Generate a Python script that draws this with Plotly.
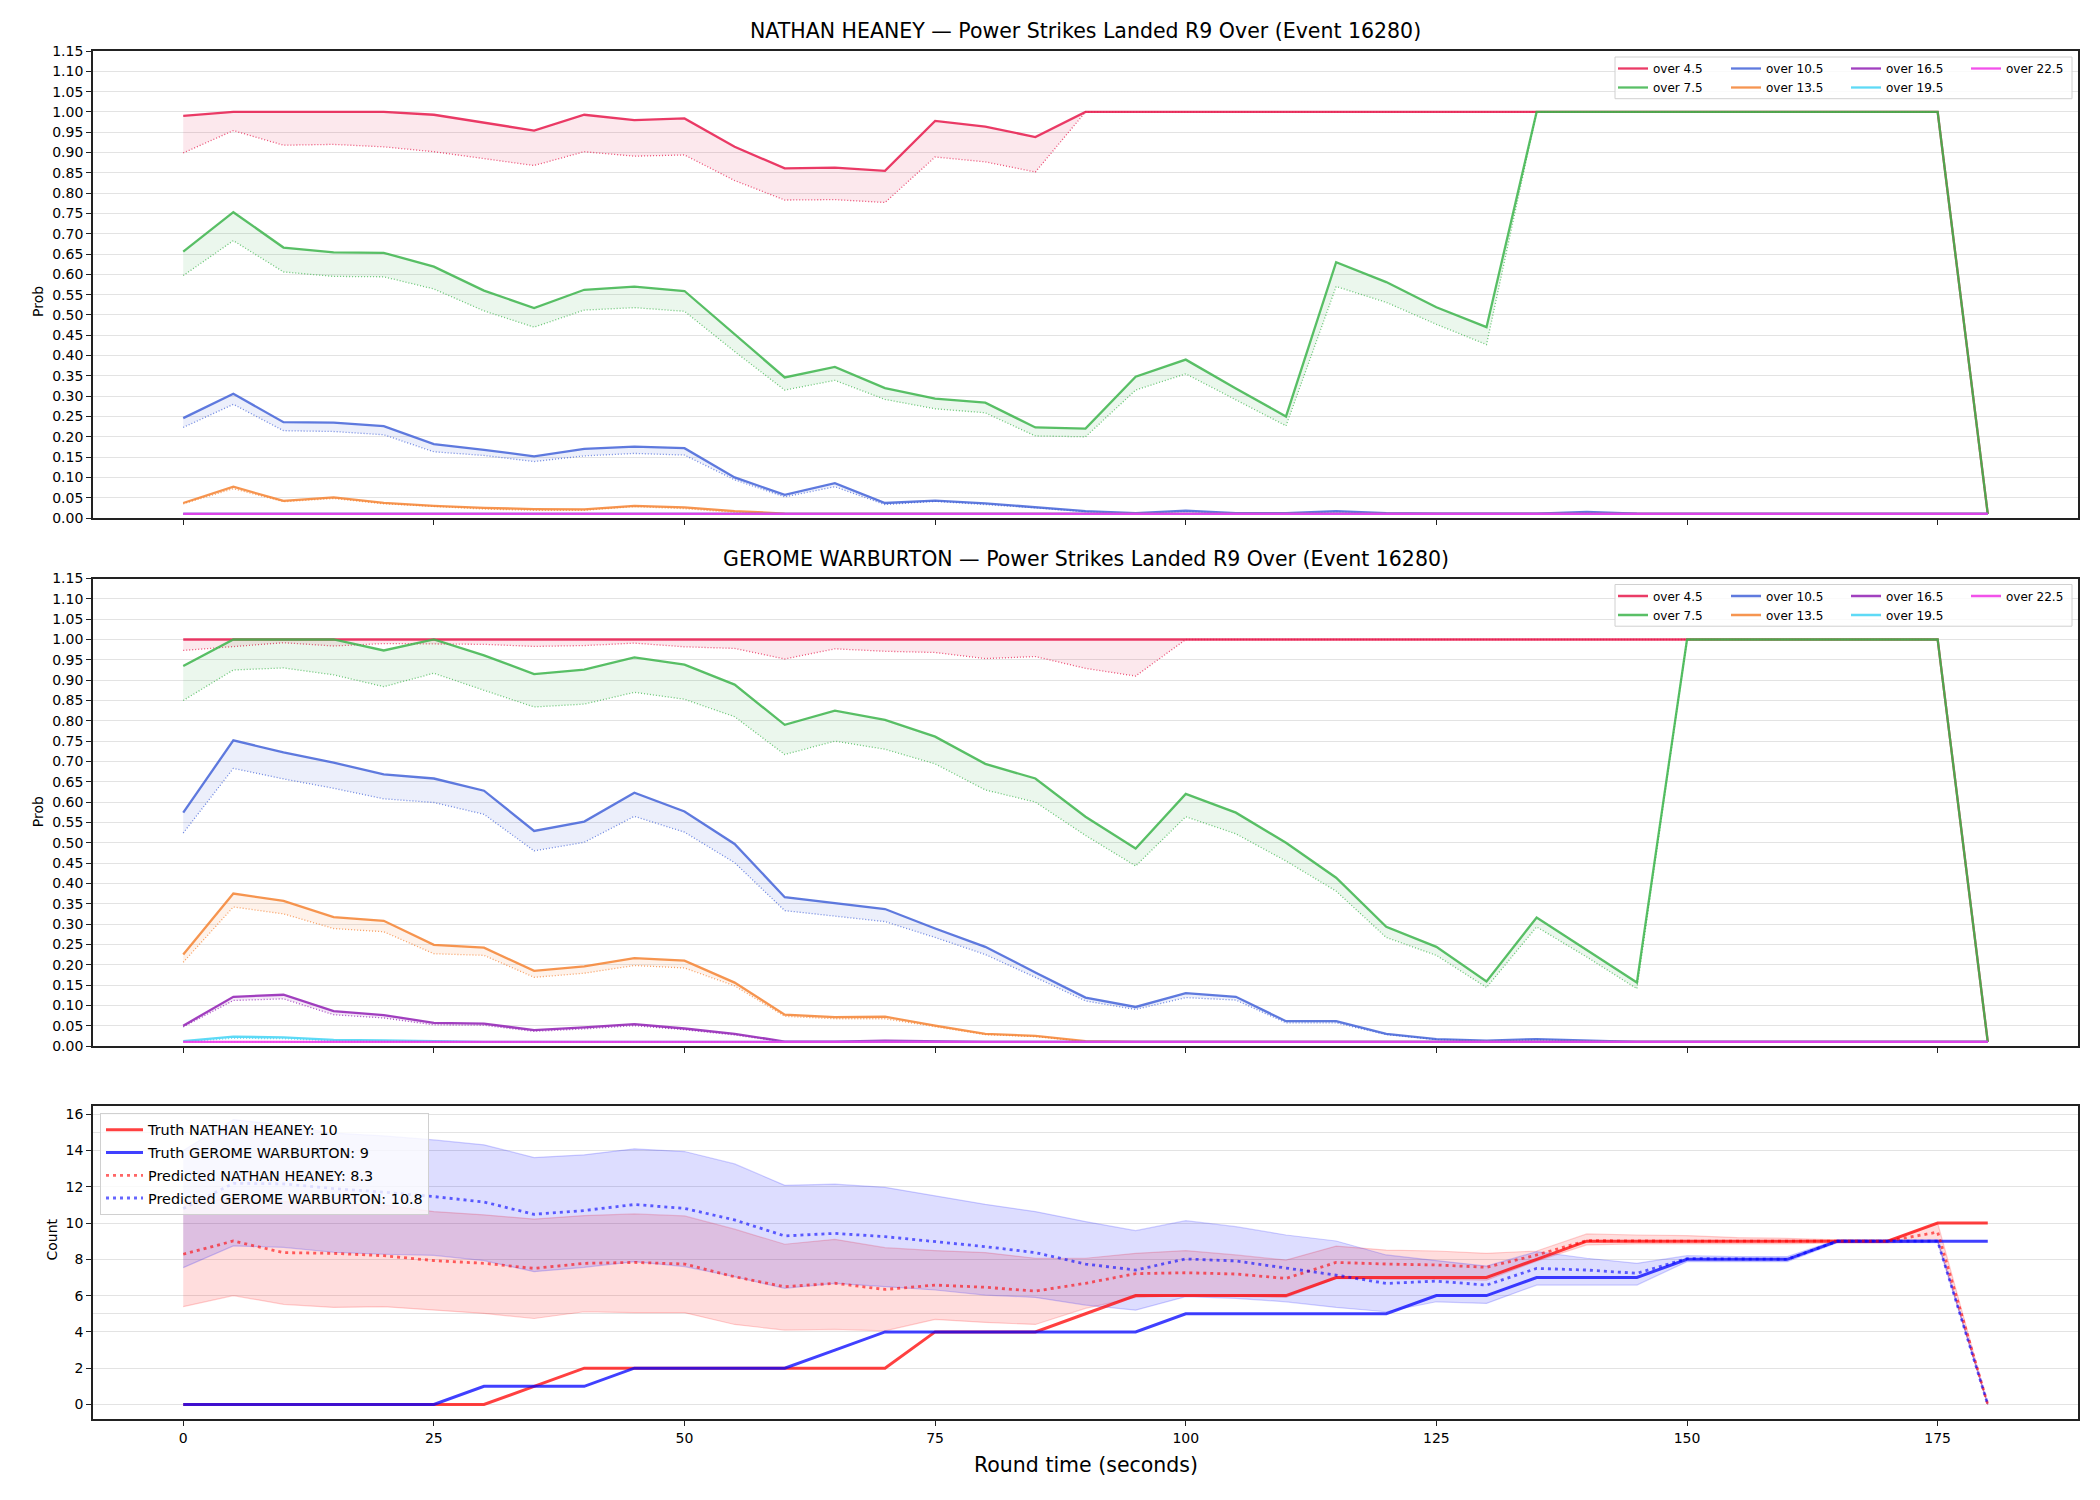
import plotly.graph_objects as go
from plotly.subplots import make_subplots

FONT = "DejaVu Sans"

# ---------------- data ----------------
TIME = [0, 5, 10, 15, 20, 25, 30, 35, 40, 45, 50, 55, 60, 65, 70, 75, 80, 85,
        90, 95, 100, 105, 110, 115, 120, 125, 130, 135, 140, 145, 150, 155, 160, 165, 170, 175, 180]

THRESHOLDS = ["over 4.5", "over 7.5", "over 10.5", "over 13.5", "over 16.5", "over 19.5", "over 22.5"]
THRESH_COLORS = ["#e6194b", "#3cb44b", "#4363d8", "#f58231", "#911eb4", "#42d4f4", "#f032e6"]

# NATHAN HEANEY (solid = line, dotted = predicted)
N_45 = [0.990, 1.000, 1.000, 1.000, 1.000, 0.993, 0.973, 0.954, 0.993, 0.980, 0.984, 0.914, 0.861, 0.863, 0.855, 0.978, 0.964, 0.938,
        1.000, 1.000, 1.000, 1.000, 1.000, 1.000, 1.000, 1.000, 1.000, 1.000, 1.000, 1.000, 1.000, 1.000, 1.000, 1.000, 1.000, 1.000, 0.010]
N_45_P = [0.899, 0.954, 0.918, 0.920, 0.914, 0.902, 0.885, 0.868, 0.902, 0.891, 0.894, 0.831, 0.783, 0.784, 0.777, 0.889, 0.877, 0.852,
          1.000, 1.000, 1.000, 1.000, 1.000, 1.000, 1.000, 1.000, 1.000, 1.000, 1.000, 1.000, 1.000, 1.000, 1.000, 1.000, 1.000, 1.000, 0.010]
N_75 = [0.656, 0.753, 0.666, 0.654, 0.653, 0.619, 0.560, 0.517, 0.562, 0.570, 0.559, 0.452, 0.346, 0.372, 0.320, 0.294, 0.284, 0.223,
        0.220, 0.348, 0.390, 0.319, 0.250, 0.630, 0.581, 0.519, 0.470, 1.000, 1.000, 1.000, 1.000, 1.000, 1.000, 1.000, 1.000, 1.000, 0.010]
N_75_P = [0.597, 0.683, 0.606, 0.595, 0.594, 0.564, 0.510, 0.470, 0.512, 0.518, 0.509, 0.410, 0.315, 0.339, 0.292, 0.269, 0.259, 0.202,
          0.200, 0.315, 0.355, 0.290, 0.227, 0.570, 0.531, 0.477, 0.427, 1.000, 1.000, 1.000, 1.000, 1.000, 1.000, 1.000, 1.000, 1.000, 0.010]
N_105 = [0.246, 0.306, 0.236, 0.235, 0.226, 0.182, 0.168, 0.152, 0.170, 0.176, 0.172, 0.100, 0.057, 0.086, 0.037, 0.043, 0.036, 0.027,
         0.017, 0.012, 0.018, 0.012, 0.012, 0.017, 0.012, 0.011, 0.011, 0.011, 0.015, 0.011, 0.010, 0.010, 0.010, 0.010, 0.010, 0.010, 0.010]
N_105_P = [0.223, 0.280, 0.215, 0.213, 0.205, 0.163, 0.154, 0.139, 0.153, 0.159, 0.155, 0.094, 0.052, 0.077, 0.033, 0.041, 0.033, 0.025,
           0.015, 0.011, 0.016, 0.011, 0.011, 0.015, 0.011, 0.010, 0.010, 0.010, 0.013, 0.010, 0.010, 0.010, 0.010, 0.010, 0.010, 0.010, 0.010]
N_135 = [0.037, 0.077, 0.042, 0.051, 0.037, 0.030, 0.025, 0.022, 0.021, 0.030, 0.026, 0.017, 0.011, 0.010, 0.010, 0.010, 0.010, 0.010,
         0.010, 0.010, 0.010, 0.010, 0.010, 0.010, 0.010, 0.010, 0.010, 0.010, 0.010, 0.010, 0.010, 0.010, 0.010, 0.010, 0.010, 0.010, 0.010]
N_135_P = [0.035, 0.072, 0.040, 0.048, 0.035, 0.028, 0.022, 0.019, 0.019, 0.028, 0.023, 0.014, 0.010, 0.010, 0.010, 0.010, 0.010, 0.010,
           0.010, 0.010, 0.010, 0.010, 0.010, 0.010, 0.010, 0.010, 0.010, 0.010, 0.010, 0.010, 0.010, 0.010, 0.010, 0.010, 0.010, 0.010, 0.010]
N_165 = [0.010, 0.010, 0.010, 0.010, 0.010, 0.010, 0.010, 0.010, 0.010, 0.010, 0.010, 0.010, 0.010, 0.010, 0.010, 0.010, 0.010, 0.010,
         0.010, 0.010, 0.010, 0.010, 0.010, 0.010, 0.010, 0.010, 0.010, 0.010, 0.010, 0.010, 0.010, 0.010, 0.010, 0.010, 0.010, 0.010, 0.010]
N_165_P = N_165
N_195 = N_165
N_195_P = N_165
N_225 = N_165
N_225_P = N_165

# GEROME WARBURTON
G_45 = [1.000, 1.000, 1.000, 1.000, 1.000, 1.000, 1.000, 1.000, 1.000, 1.000, 1.000, 1.000, 1.000, 1.000, 1.000, 1.000, 1.000, 1.000,
        1.000, 1.000, 1.000, 1.000, 1.000, 1.000, 1.000, 1.000, 1.000, 1.000, 1.000, 1.000, 1.000, 1.000, 1.000, 1.000, 1.000, 1.000, 0.010]
G_45_P = [0.973, 0.983, 0.992, 0.984, 0.990, 0.989, 0.988, 0.983, 0.985, 0.991, 0.982, 0.978, 0.952, 0.977, 0.971, 0.968, 0.953, 0.958,
          0.929, 0.910, 1.000, 1.000, 1.000, 1.000, 1.000, 1.000, 1.000, 1.000, 1.000, 1.000, 1.000, 1.000, 1.000, 1.000, 1.000, 1.000, 0.010]
G_75 = [0.935, 1.000, 1.000, 1.000, 0.973, 1.000, 0.961, 0.915, 0.926, 0.956, 0.938, 0.889, 0.790, 0.825, 0.802, 0.761, 0.694, 0.658,
        0.564, 0.486, 0.620, 0.574, 0.500, 0.414, 0.293, 0.244, 0.159, 0.316, 0.236, 0.156, 1.000, 1.000, 1.000, 1.000, 1.000, 1.000, 0.010]
G_75_P = [0.850, 0.925, 0.930, 0.913, 0.884, 0.917, 0.875, 0.834, 0.841, 0.870, 0.853, 0.810, 0.717, 0.750, 0.730, 0.694, 0.630, 0.600,
          0.518, 0.443, 0.564, 0.522, 0.455, 0.381, 0.267, 0.223, 0.144, 0.293, 0.219, 0.141, 1.000, 1.000, 1.000, 1.000, 1.000, 1.000, 0.010]
G_105 = [0.574, 0.752, 0.722, 0.697, 0.668, 0.658, 0.628, 0.529, 0.552, 0.623, 0.577, 0.497, 0.366, 0.351, 0.337, 0.289, 0.244, 0.181,
         0.119, 0.096, 0.130, 0.121, 0.061, 0.061, 0.030, 0.017, 0.013, 0.017, 0.013, 0.010, 0.010, 0.010, 0.010, 0.010, 0.010, 0.010, 0.010]
G_105_P = [0.524, 0.683, 0.657, 0.634, 0.608, 0.599, 0.570, 0.480, 0.501, 0.565, 0.526, 0.451, 0.333, 0.320, 0.306, 0.267, 0.225, 0.169,
           0.111, 0.090, 0.119, 0.113, 0.057, 0.057, 0.028, 0.016, 0.012, 0.015, 0.012, 0.010, 0.010, 0.010, 0.010, 0.010, 0.010, 0.010, 0.010]
G_135 = [0.225, 0.375, 0.357, 0.317, 0.308, 0.249, 0.242, 0.185, 0.196, 0.216, 0.210, 0.156, 0.077, 0.071, 0.072, 0.050, 0.030, 0.025,
         0.012, 0.010, 0.010, 0.010, 0.010, 0.010, 0.010, 0.010, 0.010, 0.010, 0.010, 0.010, 0.010, 0.010, 0.010, 0.010, 0.010, 0.010, 0.010]
G_135_P = [0.206, 0.342, 0.325, 0.289, 0.281, 0.227, 0.223, 0.169, 0.179, 0.198, 0.192, 0.148, 0.073, 0.067, 0.067, 0.047, 0.028, 0.023,
           0.011, 0.010, 0.010, 0.010, 0.010, 0.010, 0.010, 0.010, 0.010, 0.010, 0.010, 0.010, 0.010, 0.010, 0.010, 0.010, 0.010, 0.010, 0.010]
G_165 = [0.050, 0.121, 0.126, 0.086, 0.076, 0.057, 0.055, 0.039, 0.046, 0.054, 0.043, 0.030, 0.011, 0.011, 0.013, 0.011, 0.010, 0.010,
         0.010, 0.010, 0.010, 0.010, 0.010, 0.010, 0.010, 0.010, 0.010, 0.010, 0.010, 0.010, 0.010, 0.010, 0.010, 0.010, 0.010, 0.010, 0.010]
G_165_P = [0.047, 0.112, 0.116, 0.077, 0.069, 0.052, 0.051, 0.036, 0.042, 0.050, 0.040, 0.027, 0.010, 0.010, 0.011, 0.010, 0.010, 0.010,
           0.010, 0.010, 0.010, 0.010, 0.010, 0.010, 0.010, 0.010, 0.010, 0.010, 0.010, 0.010, 0.010, 0.010, 0.010, 0.010, 0.010, 0.010, 0.010]
G_195 = [0.012, 0.023, 0.021, 0.015, 0.014, 0.012, 0.010, 0.010, 0.010, 0.010, 0.010, 0.010, 0.010, 0.010, 0.010, 0.010, 0.010, 0.010,
         0.010, 0.010, 0.010, 0.010, 0.010, 0.010, 0.010, 0.010, 0.010, 0.010, 0.010, 0.010, 0.010, 0.010, 0.010, 0.010, 0.010, 0.010, 0.010]
G_195_P = [0.010, 0.019, 0.018, 0.013, 0.012, 0.011, 0.010, 0.010, 0.010, 0.010, 0.010, 0.010, 0.010, 0.010, 0.010, 0.010, 0.010, 0.010,
           0.010, 0.010, 0.010, 0.010, 0.010, 0.010, 0.010, 0.010, 0.010, 0.010, 0.010, 0.010, 0.010, 0.010, 0.010, 0.010, 0.010, 0.010, 0.010]
G_225 = N_165
G_225_P = N_165

# Count panel
TRUTH_N = [0, 0, 0, 0, 0, 0, 0, 1, 2, 2, 2, 2, 2, 2, 2, 4, 4, 4, 5, 6, 6, 6, 6, 7, 7, 7, 7, 8, 9, 9, 9, 9, 9, 9, 9, 10, 10]
TRUTH_G = [0, 0, 0, 0, 0, 0, 1, 1, 1, 2, 2, 2, 2, 3, 4, 4, 4, 4, 4, 4, 5, 5, 5, 5, 5, 6, 6, 7, 7, 7, 8, 8, 8, 9, 9, 9, 9]
PRED_N = [8.28, 9.01, 8.37, 8.33, 8.20, 7.93, 7.78, 7.50, 7.78, 7.83, 7.74, 7.04, 6.49, 6.68, 6.34, 6.58, 6.46, 6.25,
          6.68, 7.21, 7.26, 7.19, 6.95, 7.83, 7.74, 7.69, 7.56, 8.24, 9.03, 9.00, 9.00, 9.00, 9.00, 9.00, 9.00, 9.50, 0.00]
PRED_G = [10.80, 12.19, 12.16, 11.90, 11.70, 11.46, 11.16, 10.48, 10.69, 11.02, 10.81, 10.17, 9.29, 9.43, 9.25, 8.97, 8.70, 8.37,
          7.74, 7.41, 8.02, 7.91, 7.50, 7.13, 6.67, 6.80, 6.58, 7.50, 7.41, 7.23, 8.04, 8.00, 8.00, 9.00, 9.00, 9.00, 0.00]
UPPER_N = [11.20, 11.30, 11.18, 11.10, 11.00, 10.63, 10.45, 10.22, 10.41, 10.50, 10.39, 9.66, 8.83, 9.10, 8.64, 8.48, 8.37, 8.06,
           8.06, 8.33, 8.48, 8.24, 7.96, 8.73, 8.51, 8.46, 8.33, 8.46, 9.40, 9.34, 9.31, 9.20, 9.16, 9.07, 9.03, 10.00, 0.00]
LOWER_N = [5.39, 6.00, 5.52, 5.35, 5.39, 5.20, 5.02, 4.74, 5.11, 5.06, 5.06, 4.41, 4.10, 4.14, 4.06, 4.69, 4.52, 4.41,
           5.30, 5.90, 6.00, 5.95, 5.90, 6.95, 6.90, 6.90, 6.85, 7.90, 8.80, 8.85, 8.85, 8.85, 8.85, 8.90, 8.90, 9.00, 0.00]
UPPER_G = [14.00, 15.70, 15.40, 14.95, 14.80, 14.58, 14.31, 13.61, 13.76, 14.09, 13.94, 13.26, 12.08, 12.14, 11.97, 11.49, 11.03, 10.63,
           10.08, 9.58, 10.13, 9.80, 9.34, 9.01, 8.24, 7.93, 7.63, 8.42, 8.06, 7.78, 8.20, 8.15, 8.15, 9.08, 9.08, 9.08, 0.00]
LOWER_G = [7.54, 8.74, 8.66, 8.39, 8.28, 8.22, 7.93, 7.32, 7.56, 7.87, 7.60, 7.04, 6.40, 6.68, 6.49, 6.31, 6.03, 5.90,
           5.48, 5.20, 5.94, 5.85, 5.66, 5.35, 5.11, 5.66, 5.57, 6.58, 6.58, 6.58, 7.87, 7.87, 7.87, 8.92, 8.92, 8.92, 0.00]

NAME_N = "NATHAN HEANEY"
NAME_G = "GEROME WARBURTON"
TRUTH_LABEL_N = 10
TRUTH_LABEL_G = 9
PRED_LABEL_N = 8.3
PRED_LABEL_G = 10.8
TITLE_SUFFIX = "Power Strikes Landed R9 Over (Event 16280)"

N_SOLID = [N_45, N_75, N_105, N_135, N_165, N_195, N_225]
N_DOTS = [N_45_P, N_75_P, N_105_P, N_135_P, N_165_P, N_195_P, N_225_P]
G_SOLID = [G_45, G_75, G_105, G_135, G_165, G_195, G_225]
G_DOTS = [G_45_P, G_75_P, G_105_P, G_135_P, G_165_P, G_195_P, G_225_P]

# ---------------- layout geometry (pixels) ----------------
W, H = 2100, 1500
ML, MR, MT, MB = 93, 22, 51, 81
PW, PH = W - ML - MR, H - MT - MB


def px_x(X):
    return (X - ML) / PW


def px_y(Y):
    return (H - MB - Y) / PH


def rgba(h, a):
    h = h.lstrip("#")
    return f"rgba({int(h[0:2], 16)},{int(h[2:4], 16)},{int(h[4:6], 16)},{a})"


fig = make_subplots(rows=3, cols=1, shared_xaxes=True)

for p_idx, (row, solids, dots) in enumerate([(1, N_SOLID, N_DOTS), (2, G_SOLID, G_DOTS)]):
    for i, name in enumerate(THRESHOLDS):
        c = THRESH_COLORS[i]
        n = p_idx * 4 + i // 2 + 1
        leg = "legend" if n == 1 else f"legend{n}"
        fig.add_trace(go.Scatter(x=TIME, y=dots[i], mode="lines", showlegend=False, hoverinfo="skip",
                                 line=dict(color=rgba(c, 0.75), width=1.3, dash="1px,2px")), row=row, col=1)
        fig.add_trace(go.Scatter(x=TIME, y=solids[i], mode="lines", showlegend=False, hoverinfo="skip",
                                 line=dict(color=rgba(c, 0), width=0), fill="tonexty",
                                 fillcolor=rgba(c, 0.1)), row=row, col=1)
        fig.add_trace(go.Scatter(x=TIME, y=solids[i], mode="lines", name=name, legend=leg,
                                 line=dict(color=rgba(c, 0.85), width=2.3)), row=row, col=1)

# bands
RED, BLUE = "#ff0000", "#0000ff"
for lo, hi, c in [(LOWER_N, UPPER_N, RED), (LOWER_G, UPPER_G, BLUE)]:
    fig.add_trace(go.Scatter(x=TIME, y=lo, mode="lines", showlegend=False, hoverinfo="skip",
                             line=dict(color=rgba(c, 0.18), width=1.2)), row=3, col=1)
    fig.add_trace(go.Scatter(x=TIME, y=hi, mode="lines", showlegend=False, hoverinfo="skip",
                             line=dict(color=rgba(c, 0.18), width=1.2), fill="tonexty",
                             fillcolor=rgba(c, 0.135)), row=3, col=1)

fig.add_trace(go.Scatter(x=TIME, y=TRUTH_N, mode="lines", name=f"Truth {NAME_N}: {TRUTH_LABEL_N}",
                         legend="legend9", legendgroup="a",
                         line=dict(color=rgba(RED, 0.75), width=3)), row=3, col=1)
fig.add_trace(go.Scatter(x=TIME, y=TRUTH_G, mode="lines", name=f"Truth {NAME_G}: {TRUTH_LABEL_G}",
                         legend="legend9", legendgroup="b",
                         line=dict(color=rgba(BLUE, 0.75), width=3)), row=3, col=1)
fig.add_trace(go.Scatter(x=TIME, y=PRED_N, mode="lines", name=f"Predicted {NAME_N}: {PRED_LABEL_N}",
                         legend="legend9", legendgroup="c",
                         line=dict(color=rgba(RED, 0.6), width=2.8, dash="3px,4px")), row=3, col=1)
fig.add_trace(go.Scatter(x=TIME, y=PRED_G, mode="lines", name=f"Predicted {NAME_G}: {PRED_LABEL_G}",
                         legend="legend9", legendgroup="d",
                         line=dict(color=rgba(BLUE, 0.6), width=2.8, dash="3px,4px")), row=3, col=1)

# ---------------- axes ----------------
AX = "#222222"
GRID = "#e3e3e3"
XTICKS = [0, 25, 50, 75, 100, 125, 150, 175]
for r in (1, 2, 3):
    fig.update_xaxes(range=[-9, 189], tickvals=XTICKS, showgrid=False, zeroline=False,
                     showline=True, mirror=True, linecolor=AX, linewidth=1.8,
                     ticks="outside", ticklen=5, tickwidth=1.2, tickcolor=AX,
                     showticklabels=(r == 3), tickfont=dict(size=14, family=FONT, color="#000"),
                     row=r, col=1)

PROB_TICKS = [round(k * 0.05, 2) for k in range(24)]
for r in (1, 2):
    fig.update_yaxes(range=[0, 1.15], tickvals=PROB_TICKS, tickformat=".2f", showgrid=True,
                     gridcolor=GRID, gridwidth=1, zeroline=False, showline=True, mirror=True,
                     linecolor=AX, linewidth=1.8, ticks="outside", ticklen=5, tickwidth=1.2,
                     tickcolor=AX, tickfont=dict(size=14, family=FONT, color="#000"), row=r, col=1)
fig.update_yaxes(range=[-0.8, 16.45], tickvals=[0, 2, 4, 6, 8, 10, 12, 14, 16], showgrid=True,
                 gridcolor=GRID, gridwidth=1, zeroline=False, showline=True, mirror=True,
                 linecolor=AX, linewidth=1.8, ticks="outside", ticklen=5, tickwidth=1.2,
                 tickcolor=AX, tickfont=dict(size=14, family=FONT, color="#000"),
                 minor=dict(tickmode="array", tickvals=[5, 15], showgrid=True, gridcolor=GRID,
                            gridwidth=1, ticks=""),
                 row=3, col=1)

# domains
P1 = (51, 518)
P2 = (578.5, 1046)
P3 = (1106, 1419)
fig.update_layout(
    yaxis=dict(domain=[px_y(P1[1]), px_y(P1[0])]),
    yaxis2=dict(domain=[px_y(P2[1]), px_y(P2[0])]),
    yaxis3=dict(domain=[px_y(P3[1]), px_y(P3[0])]),
    xaxis=dict(domain=[0, 1]), xaxis2=dict(domain=[0, 1]), xaxis3=dict(domain=[0, 1]),
)

# ---------------- legends ----------------
LEG_COL_X = [1619, 1732, 1852, 1972]
legends = {}
for p_idx, top in enumerate([P1[0] + 3, P2[0] + 3]):
    for c in range(4):
        n = p_idx * 4 + c + 1
        key = "legend" if n == 1 else f"legend{n}"
        legends[key] = dict(x=px_x(LEG_COL_X[c] - 6), y=px_y(top), xanchor="left", yanchor="top",
                            bgcolor="rgba(0,0,0,0)", borderwidth=0, tracegroupgap=0,
                            traceorder="normal",
                            font=dict(size=12, family=FONT, color="#000"))
legends["legend9"] = dict(x=px_x(100), y=px_y(1113), xanchor="left", yanchor="top",
                          bgcolor="rgba(255,255,255,0.8)", bordercolor="#d0d0d0", borderwidth=1,
                          tracegroupgap=1, traceorder="grouped", itemwidth=37,
                          font=dict(size=14.4, family=FONT, color="#000"))
fig.update_layout(**legends)

shapes = []
for top in (P1[0], P2[0]):
    shapes.append(dict(type="rect", xref="paper", yref="paper", layer="above",
                       x0=px_x(1615), x1=px_x(2072), y0=px_y(top + 47.7), y1=px_y(top + 6),
                       fillcolor="rgba(255,255,255,0.8)", line=dict(color="#d0d0d0", width=1)))

annotations = [
    dict(text=f"{NAME_N} — {TITLE_SUFFIX}", x=0.5, y=px_y(31), xref="paper", yref="paper",
         showarrow=False, yanchor="middle", font=dict(size=20.5, family=FONT, color="#000")),
    dict(text=f"{NAME_G} — {TITLE_SUFFIX}", x=0.5, y=px_y(558.5), xref="paper", yref="paper",
         showarrow=False, yanchor="middle", font=dict(size=20.5, family=FONT, color="#000")),
    dict(text="Prob", x=px_x(28), y=px_y((P1[0] + P1[1]) / 2), xref="paper", yref="paper",
         showarrow=False, textangle=-90, font=dict(size=14, family=FONT, color="#000")),
    dict(text="Prob", x=px_x(28), y=px_y((P2[0] + P2[1]) / 2), xref="paper", yref="paper",
         showarrow=False, textangle=-90, font=dict(size=14, family=FONT, color="#000")),
    dict(text="Count", x=px_x(41), y=px_y((P3[0] + P3[1]) / 2), xref="paper", yref="paper",
         showarrow=False, textangle=-90, font=dict(size=14, family=FONT, color="#000")),
    dict(text="Round time (seconds)", x=0.5, y=px_y(1465), xref="paper", yref="paper",
         showarrow=False, yanchor="middle", font=dict(size=20.5, family=FONT, color="#000")),
]

fig.update_layout(
    width=W, height=H,
    margin=dict(l=ML, r=MR, t=MT, b=MB, pad=0),
    paper_bgcolor="white", plot_bgcolor="white",
    font=dict(family=FONT, size=14, color="#000"),
    shapes=shapes, annotations=annotations,
    hovermode=False,
)

fig.write_html("out.html")
